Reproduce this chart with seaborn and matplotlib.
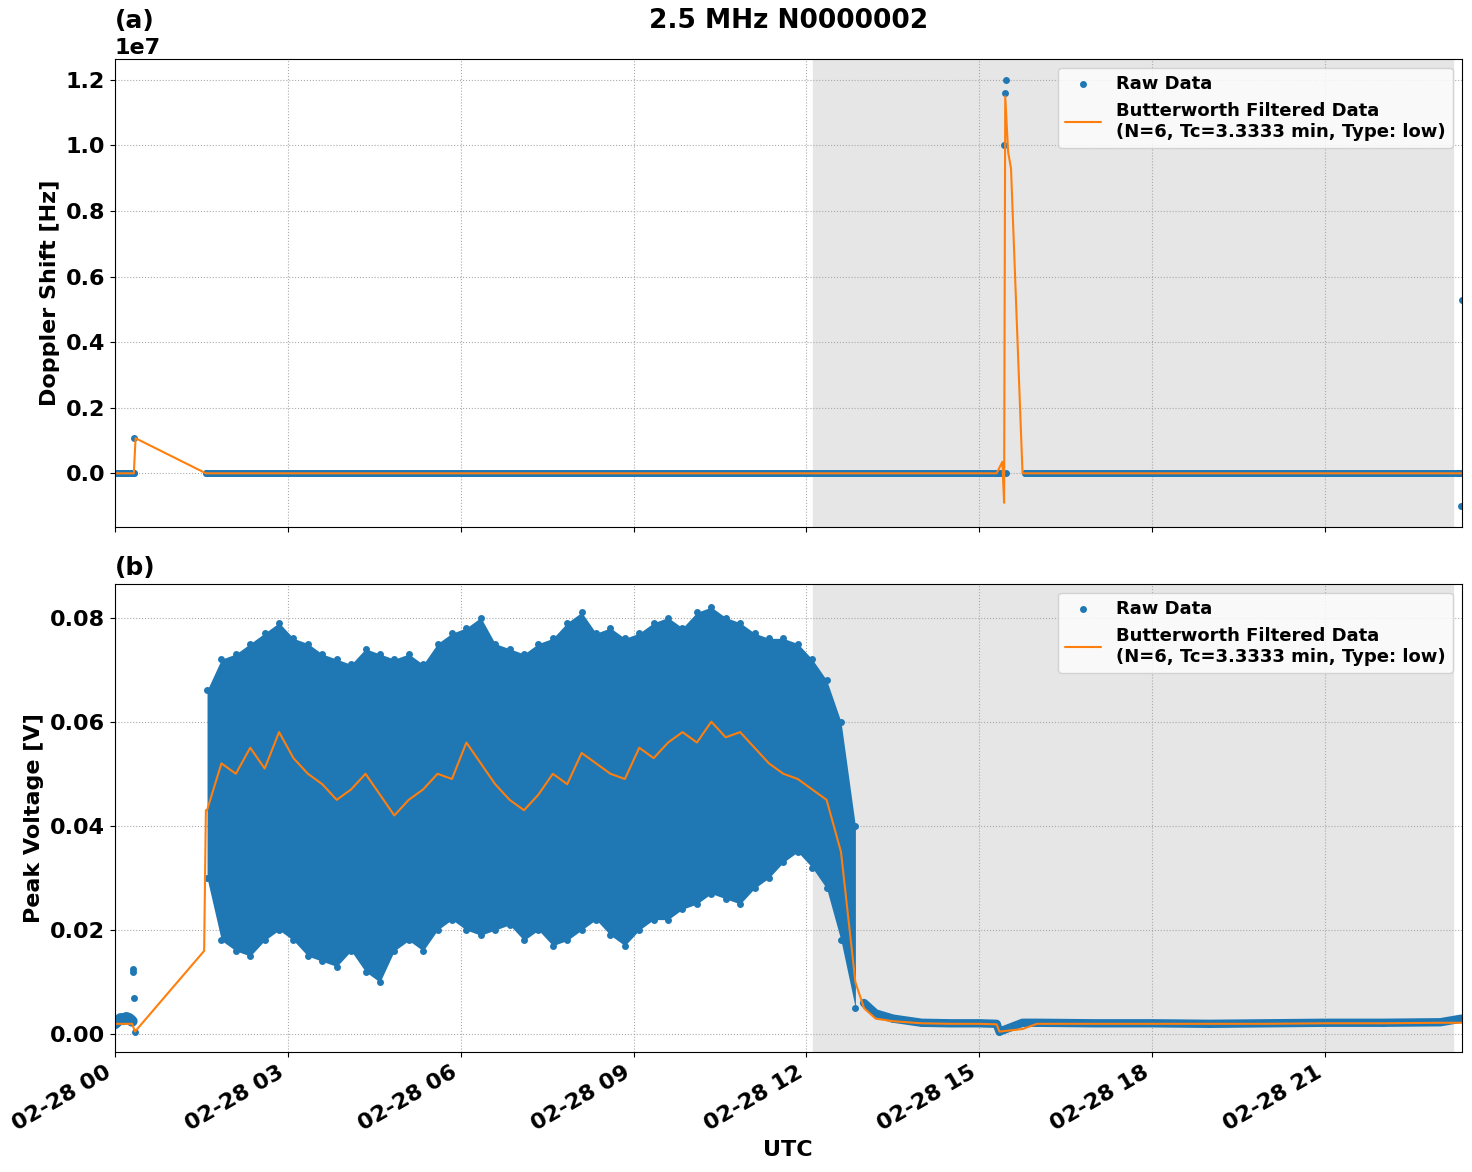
import numpy as np
import pandas as pd
import seaborn as sns
import matplotlib.pyplot as plt
import matplotlib.dates as mdates
from matplotlib.ticker import MultipleLocator

sns.set_style('ticks')
plt.rcParams['font.family'] = ['DejaVu Sans']
plt.rcParams['font.weight'] = 'bold'
plt.rcParams['axes.labelweight'] = 'bold'
plt.rcParams['axes.titleweight'] = 'bold'
plt.rcParams['font.size'] = 16
for k in ['text.color', 'axes.labelcolor', 'xtick.color', 'ytick.color', 'axes.edgecolor']:
    plt.rcParams[k] = 'black'

pal = sns.color_palette()
day = pd.Timestamp('2023-02-28')

# ---- panel (a): doppler shift (hours after 00 UTC, Hz)
dop_raw_t = [0.0, 0.1, 0.2, 0.3, 0.33, 0.34, 1.58, 3, 6, 9, 12, 15.3, 15.4, 15.43, 15.45, 15.46, 15.47, 15.8, 18, 21, 23.3, 23.36, 23.37]
dop_raw_v = [0, 0, 0, 0, 1.07e6, 0, 0, 0, 0, 0, 0, 0, 0, 1.0e7, 1.16e7, 1.2e7, 0, 0, 0, 0, 0, -1.0e6, 5.3e6]
dop_filt_t = [0.0, 0.3, 0.33, 0.36, 1.58, 6, 12, 15.3, 15.4, 15.43, 15.45, 15.5, 15.55, 15.75, 15.8, 21, 23.37]
dop_filt_v = [0, 0, 0, 1.07e6, 0, 0, 0, 0, 3.5e5, -9e5, 1.15e7, 9.8e6, 9.3e6, 0, 0, 0, 0]

# ---- panel (b): peak voltage
band_t = np.arange(1.6, 12.9, 0.25)
band_hi = [0.066, 0.072, 0.073, 0.075, 0.077, 0.079, 0.076, 0.075, 0.073, 0.072, 0.071, 0.074, 0.073, 0.072, 0.073, 0.071,
           0.075, 0.077, 0.078, 0.080, 0.075, 0.074, 0.073, 0.075, 0.076, 0.079, 0.081, 0.077, 0.078, 0.076, 0.077, 0.079,
           0.080, 0.078, 0.081, 0.082, 0.080, 0.079, 0.077, 0.076, 0.076, 0.075, 0.072, 0.068, 0.060, 0.040]
band_lo = [0.030, 0.018, 0.016, 0.015, 0.018, 0.020, 0.018, 0.015, 0.014, 0.013, 0.016, 0.012, 0.010, 0.016, 0.018, 0.016,
           0.020, 0.022, 0.020, 0.019, 0.020, 0.021, 0.018, 0.020, 0.017, 0.018, 0.020, 0.022, 0.019, 0.017, 0.020, 0.022,
           0.022, 0.024, 0.025, 0.027, 0.026, 0.025, 0.028, 0.030, 0.033, 0.035, 0.032, 0.028, 0.018, 0.005]
band_filt = [0.043, 0.052, 0.050, 0.055, 0.051, 0.058, 0.053, 0.050, 0.048, 0.045, 0.047, 0.050, 0.046, 0.042, 0.045, 0.047,
             0.050, 0.049, 0.056, 0.052, 0.048, 0.045, 0.043, 0.046, 0.050, 0.048, 0.054, 0.052, 0.050, 0.049, 0.055, 0.053,
             0.056, 0.058, 0.056, 0.060, 0.057, 0.058, 0.055, 0.052, 0.050, 0.049, 0.047, 0.045, 0.035, 0.010]
head_t = [0.0, 0.05, 0.1, 0.15, 0.2, 0.25, 0.3, 0.31, 0.32, 0.33, 0.35]
head_v = [0.002, 0.0025, 0.003, 0.0028, 0.0032, 0.003, 0.0025, 0.012, 0.0125, 0.007, 0.0005]
head_filt_t = [0.0, 0.3, 0.35, 1.55, 1.58]
head_filt_v = [0.002, 0.002, 0.0005, 0.016, 0.043]
tail_t = [13.0, 13.2, 13.5, 14.0, 14.5, 15.0, 15.3, 15.35, 15.75, 16.0, 17.0, 18.0, 19.0, 20.0, 21.0, 22.0, 23.0, 23.37]
tail_v = [0.006, 0.004, 0.003, 0.0022, 0.0021, 0.0021, 0.002, 0.0005, 0.0022, 0.0022, 0.0021, 0.0021, 0.002, 0.0021, 0.0022, 0.0022, 0.0023, 0.003]
tail_filt_v = [0.005, 0.003, 0.0025, 0.0021, 0.002, 0.002, 0.0019, 0.0005, 0.001, 0.002, 0.002, 0.002, 0.002, 0.002, 0.0021, 0.0021, 0.0022, 0.0022]


def to_time(h):
    return day + pd.to_timedelta(np.asarray(h, dtype=float), unit='h')


fig, axes = plt.subplots(2, 1, figsize=[14.72, 11.72], sharex=True)
fig.subplots_adjust(left=0.078, right=0.993, top=0.95, bottom=0.102, hspace=0.12)
leg_label = 'Butterworth Filtered Data\n(N=6, Tc=3.3333 min, Type: low)'

ax = axes[0]
sns.scatterplot(x=to_time(dop_raw_t), y=dop_raw_v, ax=ax, color=pal[0], s=25, linewidth=0, label='Raw Data')
ax.plot(to_time([0, 0.33]), [0, 0], color=pal[0], lw=5)
ax.plot(to_time([1.58, 15.4]), [0, 0], color=pal[0], lw=5)
ax.plot(to_time([15.8, 23.37]), [0, 0], color=pal[0], lw=5)
sns.lineplot(x=to_time(dop_filt_t), y=dop_filt_v, ax=ax, color=pal[1], label=leg_label)
ax.set_ylabel('Doppler Shift [Hz]')
ax.set_ylim(-1.65e6, 1.265e7)
ax.set_title('(a)', loc='left', fontsize=18)
ax.set_title('2.5 MHz N0000002', fontsize=19, pad=22)

ax = axes[1]
ax.fill_between(to_time(band_t), band_lo, band_hi, color=pal[0], lw=0)
sns.scatterplot(x=to_time(list(band_t) + list(band_t)), y=band_hi + band_lo, ax=ax, color=pal[0], s=25, linewidth=0)
sns.scatterplot(x=to_time(head_t + tail_t), y=head_v + tail_v, ax=ax, color=pal[0], s=25, linewidth=0, label='Raw Data')
ax.plot(to_time(tail_t), tail_v, color=pal[0], lw=6)
ax.plot(to_time(head_t[:7]), head_v[:7], color=pal[0], lw=8)
sns.lineplot(x=to_time(head_filt_t + list(band_t) + tail_t), y=head_filt_v + band_filt + tail_filt_v,
             ax=ax, color=pal[1], label=leg_label)
ax.set_ylabel('Peak Voltage [V]')
ax.set_ylim(-0.0035, 0.0865)
ax.yaxis.set_major_locator(MultipleLocator(0.02))
ax.set_title('(b)', loc='left', fontsize=18)
ax.set_xlabel('UTC')

for ax in axes:
    ax.axvspan(to_time([12.12])[0], to_time([23.22])[0], color='#e6e6e6', zorder=0)
    ax.grid(True, ls=':', color='#aaaaaa')
    ax.set_xlim(to_time([0])[0], to_time([23.37])[0])
    ax.legend(loc='upper right', fontsize=13)

axes[1].xaxis.set_major_locator(mdates.HourLocator(byhour=range(0, 24, 3)))
axes[1].xaxis.set_major_formatter(mdates.DateFormatter('%m-%d %H'))
plt.setp(axes[1].get_xticklabels(), rotation=30, ha='right')
plt.savefig('out.png', dpi=100)
